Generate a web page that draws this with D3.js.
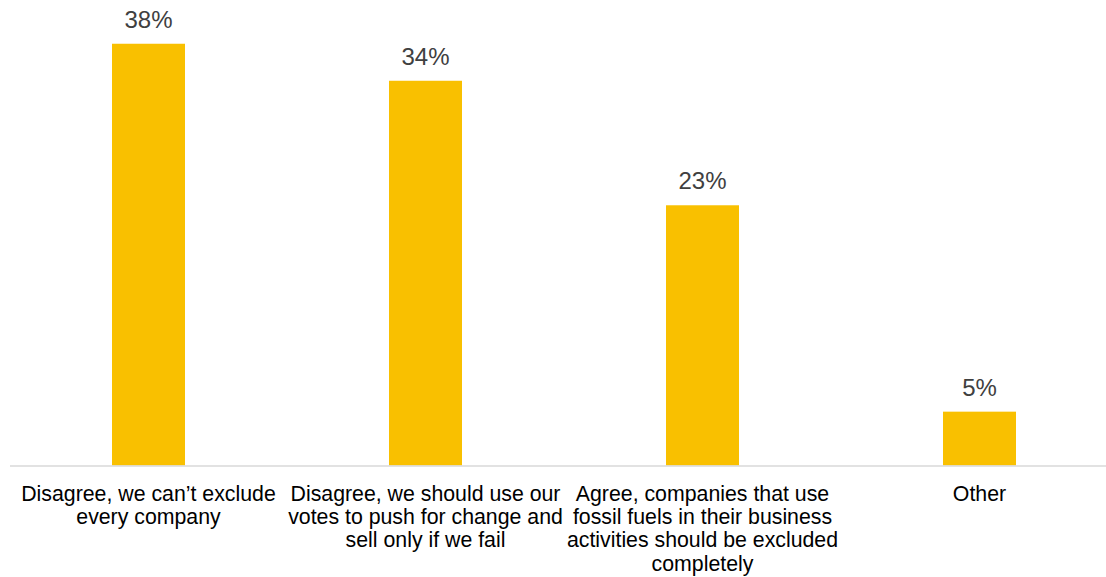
<!DOCTYPE html>
<html>
<head>
<meta charset="utf-8">
<script src="https://cdn.jsdelivr.net/npm/d3@7"></script>
<style>
  html, body { margin: 0; padding: 0; background: #ffffff; }
  svg { display: block; }
</style>
</head>
<body>
<svg id="chart" width="1106" height="577"></svg>
<script>
// ---- Data ----
const categories = [
  "Disagree, we can\u2019t exclude\nevery company",
  "Disagree, we should use our\nvotes to push for change and\nsell only if we fail",
  "Agree, companies that use\nfossil fuels in their business\nactivities should be excluded\ncompletely",
  "Other"
];
const values = [37.6, 34.3, 23.2, 4.8];
const valueLabels = ["38%", "34%", "23%", "5%"];

// ---- Layout ----
const W = 1106, H = 577;
const baseY = 465.5;
const svg = d3.select("#chart");
const font = "'Liberation Sans', Arial, Helvetica, sans-serif";

const x = d3.scaleBand()
  .domain(categories)
  .range([10, 1118])
  .paddingInner(0.7365)
  .paddingOuter(0.7365 / 2);

const y = d3.scaleLinear()
  .domain([0, 41.5])
  .range([baseY, 0]);

const data = categories.map((c, i) => ({ cat: c, value: values[i], label: valueLabels[i] }));

// Bars
svg.append("g").selectAll("rect")
  .data(data)
  .join("rect")
  .attr("x", d => x(d.cat))
  .attr("y", d => y(d.value))
  .attr("width", x.bandwidth())
  .attr("height", d => baseY - y(d.value))
  .attr("fill", "#F9C000");

// Axis line
svg.append("line")
  .attr("x1", 10).attr("x2", W)
  .attr("y1", 466).attr("y2", 466)
  .attr("stroke", "#D9D9D9")
  .attr("stroke-width", 1.5);

// Value labels
svg.append("g").selectAll("text")
  .data(data)
  .join("text")
  .attr("x", d => x(d.cat) + x.bandwidth() / 2)
  .attr("y", d => y(d.value) - 16)
  .attr("text-anchor", "middle")
  .attr("font-family", font)
  .attr("font-size", 24)
  .attr("fill", "#404040")
  .text(d => d.label);

// Category labels
const catG = svg.append("g");
data.forEach(d => {
  const lines = d.cat.split("\n");
  const t = catG.append("text")
    .attr("x", x(d.cat) + x.bandwidth() / 2)
    .attr("y", 501)
    .attr("text-anchor", "middle")
    .attr("font-family", font)
    .attr("font-size", 21.3)
    .attr("fill", "#000000");
  lines.forEach((ln, i) => {
    t.append("tspan")
      .attr("x", x(d.cat) + x.bandwidth() / 2)
      .attr("dy", i === 0 ? 0 : 23.2)
      .text(ln);
  });
});
</script>
</body>
</html>
